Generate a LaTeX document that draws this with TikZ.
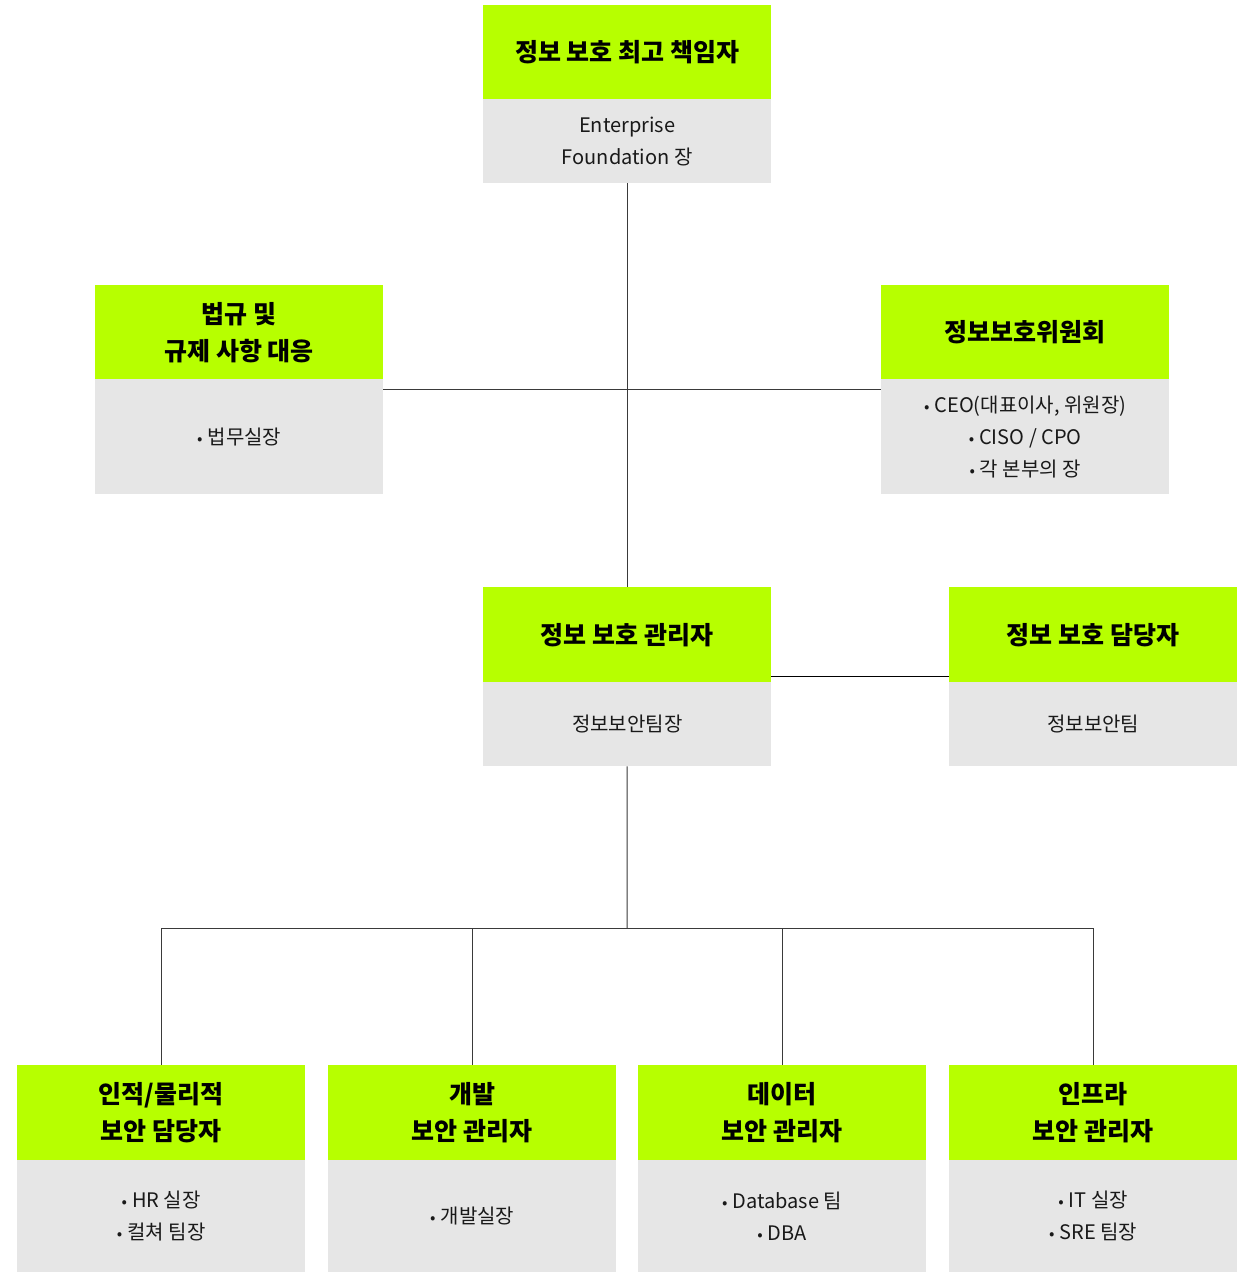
\documentclass[tikz,border=0pt]{standalone}
\usepackage{fontspec}
\setmainfont{Noto Sans CJK KR}
\definecolor{hgreen}{HTML}{B7FF00}
\definecolor{hgray}{HTML}{E6E6E6}
\definecolor{hline}{HTML}{3A3A3A}
\tikzset{
  headbox/.style={fill=hgreen, draw=none, anchor=north west, minimum width=288pt, inner sep=0pt, align=center, font=\fontsize{25}{37}\selectfont\bfseries, text=black},
  bodybox/.style={fill=hgray, draw=none, anchor=north west, minimum width=288pt, inner sep=0pt, align=center, font=\fontsize{20}{32}\selectfont, text=black!90},
  link/.style={draw=hline, line width=1pt}
}
\newcommand{\bul}{{\fontsize{16}{16}\selectfont•}\hspace{5pt}}
\begin{document}
\begin{tikzpicture}[x=1pt,y=-1pt]
\fill[white] (0,0) rectangle (1243,1272);
\useasboundingbox (0,0) rectangle (1243,1272);
% top
\node[headbox, minimum height=94pt] (top) at (483,5) {정보 보호 최고 책임자};
\node[bodybox, minimum height=84pt] (topb) at (483,99) {Enterprise\\Foundation 장};
% law
\node[headbox, minimum height=94pt] (law) at (95,285) {법규 및\\규제 사항 대응};
\node[bodybox, minimum height=115pt] (lawb) at (95,379) {\bul 법무실장};
% committee
\node[headbox, minimum height=94pt] (com) at (881,285) {정보보호위원회};
\node[bodybox, minimum height=115pt] (comb) at (881,379) {\bul CEO(대표이사, 위원장)\\\bul CISO / CPO\\\bul 각 본부의 장};
% manager
\node[headbox, minimum height=95pt] (mgr) at (483,587) {정보 보호 관리자};
\node[bodybox, minimum height=84pt] (mgrb) at (483,682) {정보보안팀장};
% staff
\node[headbox, minimum height=95pt] (stf) at (949,587) {정보 보호 담당자};
\node[bodybox, minimum height=84pt] (stfb) at (949,682) {정보보안팀};
% bottom row
\node[headbox, minimum height=95pt] (b1) at (17,1065) {인적/물리적\\보안 담당자};
\node[bodybox, minimum height=112pt] (b1b) at (17,1160) {\bul HR 실장\\\bul 컬쳐 팀장};
\node[headbox, minimum height=95pt] (b2) at (328,1065) {개발\\보안 관리자};
\node[bodybox, minimum height=112pt] (b2b) at (328,1160) {\bul 개발실장};
\node[headbox, minimum height=95pt] (b3) at (638,1065) {데이터\\보안 관리자};
\node[bodybox, minimum height=112pt] (b3b) at (638,1160) {\bul Database 팀\\\bul DBA};
\node[headbox, minimum height=95pt] (b4) at (949,1065) {인프라\\보안 관리자};
\node[bodybox, minimum height=112pt] (b4b) at (949,1160) {\bul IT 실장\\\bul SRE 팀장};
% connectors
\coordinate (hj) at (627,389.5);
\coordinate (mj) at (627,676.5);
\coordinate (bus) at (627,928);
\draw[link] (topb.south) -- (mgr.north);
\draw[link] (lawb.east |- hj) -- (comb.west |- hj);
\draw[link, draw=black] (mgr.east |- mj) -- (stf.west |- mj);
\draw[link] (mgrb.south) -- (bus);
\draw[link] (b1.north |- bus) -- (b4.north |- bus);
\foreach \b in {b1,b2,b3,b4} {\draw[link] (\b.north |- bus) -- (\b.north);}
\end{tikzpicture}
\end{document}
